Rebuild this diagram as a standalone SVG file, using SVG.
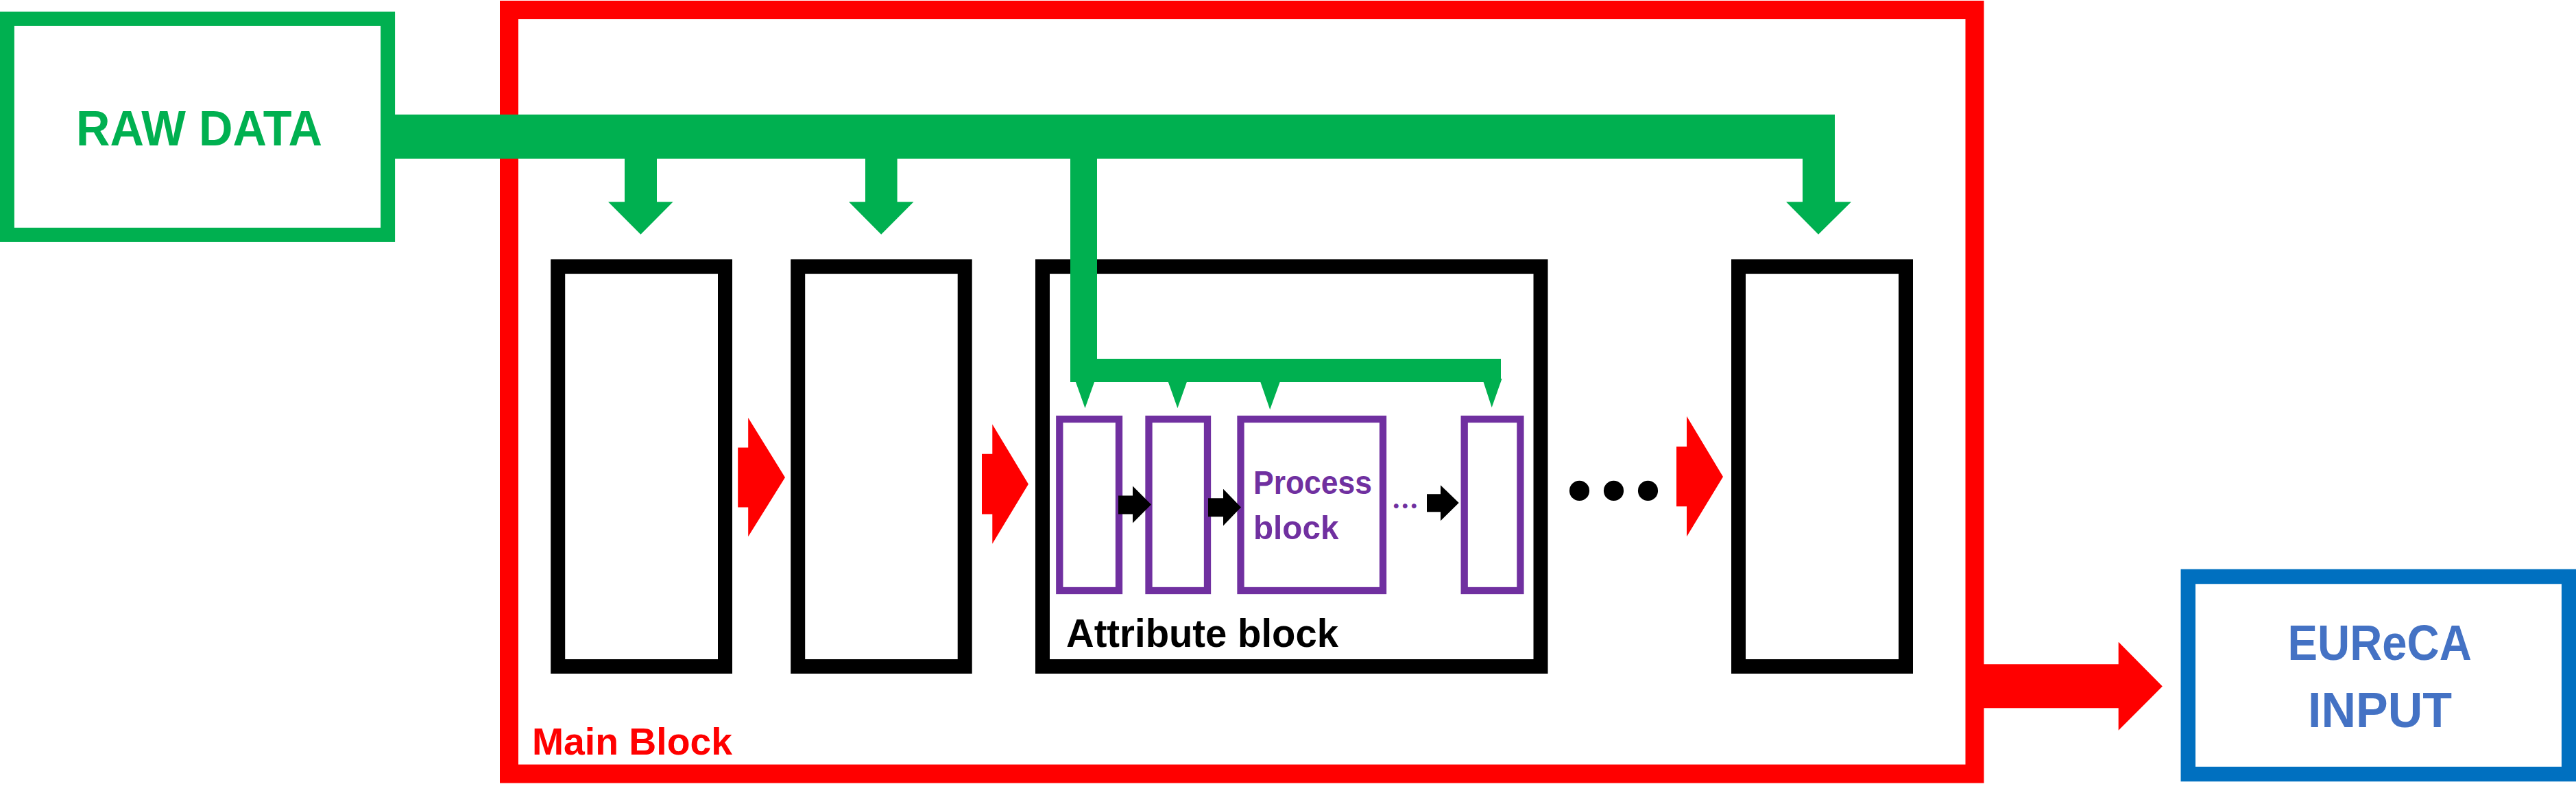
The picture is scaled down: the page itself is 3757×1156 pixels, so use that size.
<svg xmlns="http://www.w3.org/2000/svg" width="3757" height="1156" viewBox="0 0 3757 1156">
<style>
.lbl{font-family:"Liberation Sans",Arial,sans-serif;font-weight:bold}
.dots{font-family:"Liberation Serif","Times New Roman",serif;font-weight:bold}
.blk{fill:none;stroke:#000;stroke-width:21}
.prc{fill:none;stroke:#7030A0;stroke-width:10.3}
.grn{fill:#00B050}
.red{fill:#FF0000}
.bla{fill:#000}
</style>
<rect width="3757" height="1156" fill="#fff"/>
<g id="main-block">
<rect x="742.5" y="14.5" width="2137.5" height="1113.5" fill="none" stroke="#FF0000" stroke-width="27"/>
<text class="lbl" x="776" y="1099.6" font-size="55" fill="#FF0000" textLength="292" lengthAdjust="spacingAndGlyphs">Main Block</text>
</g>
<g id="raw-data">
<rect x="10.4" y="27.4" width="555.2" height="315" fill="#fff" stroke="#00B050" stroke-width="21"/>
<text class="lbl" x="290.6" y="211.6" font-size="72" fill="#00B050" text-anchor="middle" textLength="359" lengthAdjust="spacingAndGlyphs">RAW DATA</text>
</g>
<g id="block1"><rect class="blk" x="813.7" y="388.6" width="243.8" height="582.9"/></g>
<g id="block2"><rect class="blk" x="1163.7" y="388.6" width="243.5" height="582.9"/></g>
<g id="attribute-block">
<rect class="blk" x="1520.5" y="388.6" width="726.5" height="582.9"/>
<text class="lbl" x="1555" y="943.4" font-size="57" fill="#000" textLength="397" lengthAdjust="spacingAndGlyphs">Attribute block</text>
</g>
<g id="block4"><rect class="blk" x="2535.5" y="388.6" width="244" height="582.9"/></g>
<g id="process1"><rect class="prc" x="1545.3" y="611" width="86.7" height="250"/></g>
<g id="process2"><rect class="prc" x="1675.5" y="611" width="85.5" height="250"/></g>
<g id="process-block">
<rect class="prc" x="1809.5" y="611" width="207.5" height="250"/>
<text class="lbl" x="1828" y="720" font-size="49" fill="#7030A0" textLength="173" lengthAdjust="spacingAndGlyphs">Process</text>
<text class="lbl" x="1828" y="785.7" font-size="49" fill="#7030A0" textLength="124.5" lengthAdjust="spacingAndGlyphs">block</text>
</g>
<g id="process4"><rect class="prc" x="2135.7" y="611" width="81.7" height="250"/></g>
<g id="eureca-input">
<rect x="3191.3" y="840.5" width="555.4" height="288" fill="#fff" stroke="#0070C0" stroke-width="21.5"/>
<text class="lbl" x="3470.7" y="961.7" font-size="72" fill="#4472C4" text-anchor="middle" textLength="268.3" lengthAdjust="spacingAndGlyphs">EUReCA</text>
<text class="lbl" x="3471" y="1060.3" font-size="72" fill="#4472C4" text-anchor="middle" textLength="210" lengthAdjust="spacingAndGlyphs">INPUT</text>
</g>
<g id="ellipses">
<text class="dots" x="2031" y="740.7" font-size="42" fill="#7030A0" letter-spacing="2.5">...</text>
<text class="dots" x="2281" y="726.6" font-size="180" fill="#000" letter-spacing="5">...</text>
</g>
<g id="connectors">
<polygon class="grn" points="576,167 2676,167 2676,294.3 2700,294.3 2652,341.7 2605,294.3 2629,294.3 2629,231.5 576,231.5"/>
<polygon class="grn" points="911,231 958,231 958,294.3 981.6,294.3 934.4,341.7 887,294.3 911,294.3"/>
<polygon class="grn" points="1262,231 1308.6,231 1308.6,294.3 1332.5,294.3 1285.2,341.7 1238,294.3 1262,294.3"/>
<polygon class="grn" points="1561,231 1600,231 1600,523 2189,523 2189,557 1561,557"/>
<polygon class="grn" points="1568.6,556 1596.4,556 1582.5,595"/>
<polygon class="grn" points="1703.5,556 1731.2,556 1717.4,595"/>
<polygon class="grn" points="1838,556 1867,556 1852.2,597"/>
<polygon class="grn" points="2162,552 2190.5,552 2175.7,594"/>
<polygon class="red" points="1076.2,652.4 1091.2,652.4 1091.2,609.1 1145,696.1 1091.2,782.3 1091.2,739.4 1076.2,739.4"/>
<polygon class="red" points="1432,661.7 1447.3,661.7 1447.3,618.4 1499.9,705.7 1447.3,792.7 1447.3,749.4 1432,749.4"/>
<polygon class="red" points="2445,650.9 2460,650.9 2460,606.8 2513,694.9 2460,782.3 2460,738.2 2445,738.2"/>
<polygon class="red" points="2880,968.2 3089.7,968.2 3089.7,935.7 3153.8,1000.6 3089.7,1064.8 3089.7,1032.3 2880,1032.3"/>
<polygon class="bla" points="1631,722.4 1652,722.4 1652,708.5 1679,735.5 1652,762.6 1652,749.4 1631,749.4"/>
<polygon class="bla" points="1762,726.2 1784,726.2 1784,712.7 1810,739.4 1784,766.4 1784,753.3 1762,753.3"/>
<polygon class="bla" points="2081,720.3 2101,720.3 2101,707.3 2127.7,733 2101,759.3 2101,746.3 2081,746.3"/>
</g>
</svg>
